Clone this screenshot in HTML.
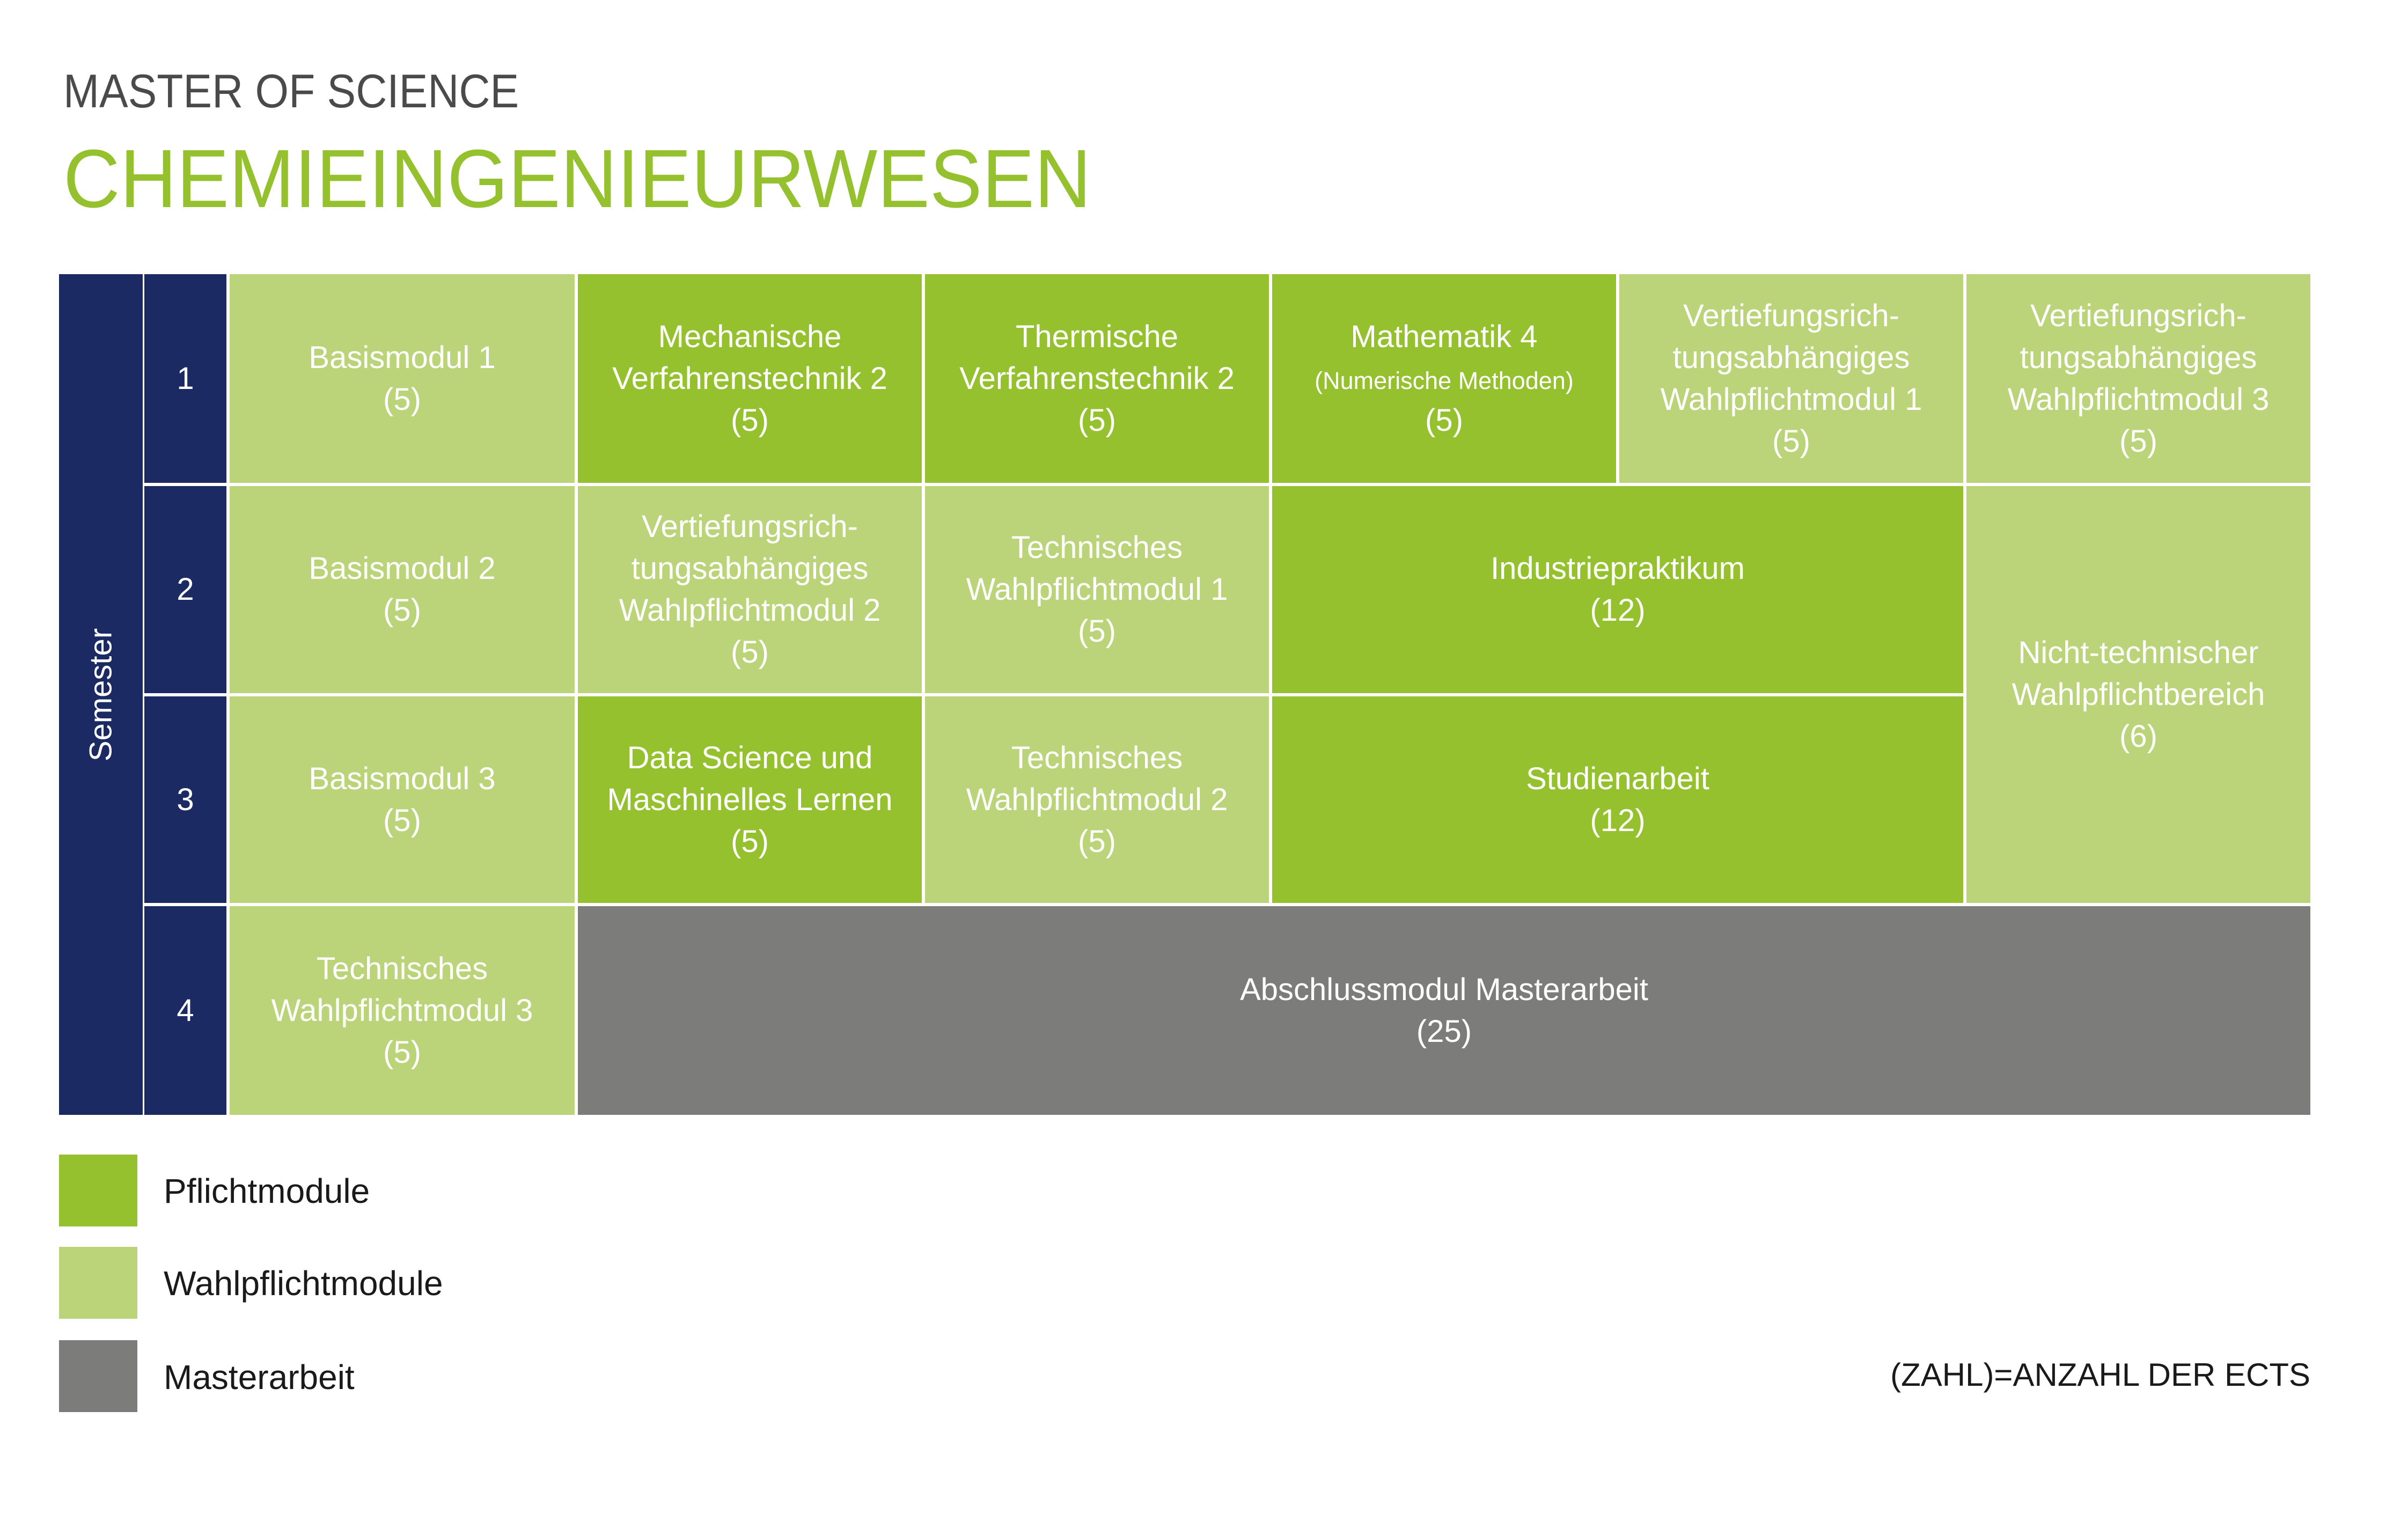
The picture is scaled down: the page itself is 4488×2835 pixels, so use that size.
<!DOCTYPE html>
<html><head><meta charset="utf-8">
<style>
html,body{margin:0;padding:0;background:#fff;}
body{width:4488px;height:2835px;position:relative;overflow:hidden;font-family:"Liberation Sans",sans-serif;}
.t1{position:absolute;left:118px;top:120px;font-size:88px;line-height:100px;color:#4a4a4a;transform:scaleX(0.914);transform-origin:left top;white-space:nowrap;}
.t2{position:absolute;left:118px;top:248px;font-size:154px;line-height:170px;color:#95c12f;transform:scaleX(0.95);transform-origin:left top;white-space:nowrap;}
.c{position:absolute;display:flex;align-items:center;justify-content:center;text-align:center;color:#fff;font-size:58px;line-height:78px;box-sizing:border-box;}
.g{background:#95c12f}.l{background:#bbd379}.n{background:#1b2a63}.d{background:#7c7c7a}
.sm{font-size:45px;line-height:70px}
.sem{position:absolute;left:110px;top:511px;width:156px;height:1567px;background:#1b2a63;}
.sem span{position:absolute;left:50%;top:50%;transform:translate(-50%,-50%) rotate(-90deg);color:#fff;font-size:58px;white-space:nowrap;}
.lg{position:absolute;left:110px;width:146px;height:134px;}
.lt{position:absolute;left:305px;font-size:64px;color:#1a1a1a;white-space:nowrap;}
</style></head><body>
<div class="t1">MASTER OF SCIENCE</div>
<div class="t2">CHEMIEINGENIEURWESEN</div>

<div class="sem"><span>Semester</span></div>

<div class="c n" style="left:269px;top:511px;width:153px;height:389px">1</div>
<div class="c n" style="left:269px;top:906px;width:153px;height:386px">2</div>
<div class="c n" style="left:269px;top:1298px;width:153px;height:385px">3</div>
<div class="c n" style="left:269px;top:1689px;width:153px;height:389px">4</div>

<!-- row 1 -->
<div class="c l" style="left:428px;top:511px;width:643px;height:389px">Basismodul 1<br>(5)</div>
<div class="c g" style="left:1077px;top:511px;width:641px;height:389px">Mechanische<br>Verfahrenstechnik 2<br>(5)</div>
<div class="c g" style="left:1724px;top:511px;width:641px;height:389px">Thermische<br>Verfahrenstechnik 2<br>(5)</div>
<div class="c g" style="left:2371px;top:511px;width:641px;height:389px"><div>Mathematik 4<br><span class="sm">(Numerische Methoden)</span><br>(5)</div></div>
<div class="c l" style="left:3018px;top:511px;width:641px;height:389px">Vertiefungsrich-<br>tungsabhängiges<br>Wahlpflichtmodul 1<br>(5)</div>
<div class="c l" style="left:3665px;top:511px;width:641px;height:389px">Vertiefungsrich-<br>tungsabhängiges<br>Wahlpflichtmodul 3<br>(5)</div>

<!-- row 2 -->
<div class="c l" style="left:428px;top:906px;width:643px;height:386px">Basismodul 2<br>(5)</div>
<div class="c l" style="left:1077px;top:906px;width:641px;height:386px">Vertiefungsrich-<br>tungsabhängiges<br>Wahlpflichtmodul 2<br>(5)</div>
<div class="c l" style="left:1724px;top:906px;width:641px;height:386px">Technisches<br>Wahlpflichtmodul 1<br>(5)</div>
<div class="c g" style="left:2371px;top:906px;width:1288px;height:386px">Industriepraktikum<br>(12)</div>
<div class="c l" style="left:3665px;top:906px;width:641px;height:777px">Nicht-technischer<br>Wahlpflichtbereich<br>(6)</div>

<!-- row 3 -->
<div class="c l" style="left:428px;top:1298px;width:643px;height:385px">Basismodul 3<br>(5)</div>
<div class="c g" style="left:1077px;top:1298px;width:641px;height:385px">Data Science und<br>Maschinelles Lernen<br>(5)</div>
<div class="c l" style="left:1724px;top:1298px;width:641px;height:385px">Technisches<br>Wahlpflichtmodul 2<br>(5)</div>
<div class="c g" style="left:2371px;top:1298px;width:1288px;height:385px">Studienarbeit<br>(12)</div>

<!-- row 4 -->
<div class="c l" style="left:428px;top:1689px;width:643px;height:389px">Technisches<br>Wahlpflichtmodul 3<br>(5)</div>
<div class="c d" style="left:1077px;top:1689px;width:3229px;height:389px">Abschlussmodul Masterarbeit<br>(25)</div>

<!-- legend -->
<div class="lg g" style="top:2152px"></div>
<div class="lg l" style="top:2324px"></div>
<div class="lg d" style="top:2498px"></div>
<div class="lt" style="top:2183px">Pflichtmodule</div>
<div class="lt" style="top:2355px">Wahlpflichtmodule</div>
<div class="lt" style="top:2530px">Masterarbeit</div>
<div style="position:absolute;right:182px;top:2528px;font-size:60px;color:#1a1a1a;white-space:nowrap;">(ZAHL)=ANZAHL DER ECTS</div>
</body></html>
